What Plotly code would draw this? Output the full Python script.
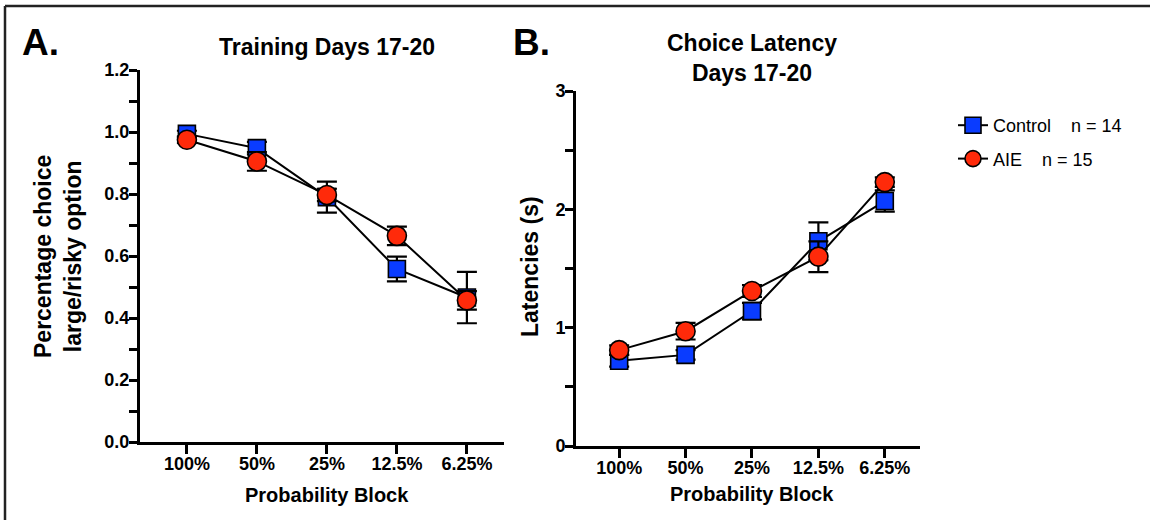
import plotly.graph_objects as go

# ---------------- data ----------------
categories = ["100%", "50%", "25%", "12.5%", "6.25%"]

choice_control = [0.994, 0.948, 0.79, 0.558, 0.466]
choice_control_err = [0.01, 0.02, 0.05, 0.04, 0.083]
choice_aie = [0.975, 0.905, 0.797, 0.665, 0.457]
choice_aie_err = [0.01, 0.03, 0.02, 0.03, 0.03]

latency_control = [0.72, 0.77, 1.14, 1.73, 2.07]
latency_control_err = [0.05, 0.04, 0.07, 0.16, 0.09]
latency_aie = [0.81, 0.97, 1.31, 1.60, 2.23]
latency_aie_err = [0.04, 0.07, 0.05, 0.13, 0.04]

control_name = "Control\u00a0\u00a0\u00a0\u00a0n = 14"
aie_name = "AIE\u00a0\u00a0\u00a0\u00a0n = 15"

# ---------------- style ----------------
W, H = 1150, 520
FONT = "Liberation Sans, Arial, sans-serif"
BLUE = "#0a3cff"
RED = "#ff2a0a"
xpos = list(range(len(categories)))


def px_x(p):
    return p / W


def px_y(p):
    return 1 - p / H


fig = go.Figure()


def add_series(y, err, xa, ya, color, symbol, size, name, show, group):
    fig.add_trace(go.Scatter(
        x=xpos, y=y, xaxis=xa, yaxis=ya, mode="lines+markers",
        name=name, showlegend=show, legendgroup=group,
        line=dict(color="black", width=2),
        marker=dict(symbol=symbol, size=size, color=color,
                    line=dict(color="black", width=1.6)),
        error_y=dict(type="data", array=err, visible=True,
                     color="black", thickness=2.2, width=10),
    ))


add_series(choice_control, choice_control_err, "x", "y", BLUE, "square", 17, control_name, True, "c")
add_series(choice_aie, choice_aie_err, "x", "y", RED, "circle", 19, aie_name, True, "a")
add_series(latency_control, latency_control_err, "x2", "y2", BLUE, "square", 17, control_name, False, "c")
add_series(latency_aie, latency_aie_err, "x2", "y2", RED, "circle", 19, aie_name, False, "a")

tickfont = dict(family=FONT, size=18, color="black", weight="bold")

common_x = dict(
    tickmode="array", tickvals=xpos, ticktext=categories,
    showline=True, linecolor="black", linewidth=3,
    ticks="outside", ticklen=9, tickwidth=3, tickcolor="black",
    showgrid=False, zeroline=False, tickfont=tickfont, fixedrange=True,
    automargin=False, ticklabelstandoff=-6,
)
common_y = dict(
    showline=True, linecolor="black", linewidth=3,
    ticks="outside", ticklen=8, tickwidth=3, tickcolor="black",
    showgrid=False, zeroline=False, tickfont=tickfont, fixedrange=True,
    automargin=False, ticklabelstandoff=-4,
)

fig.update_layout(
    width=W, height=H, autosize=False,
    margin=dict(l=0, r=0, t=0, b=0, autoexpand=False),
    paper_bgcolor="white", plot_bgcolor="white",
    font=dict(family=FONT, color="black"),
    xaxis=dict(domain=[px_x(140), px_x(504)], range=[-0.67, 4.53], anchor="y", **common_x),
    yaxis=dict(domain=[px_y(442), px_y(70)], range=[0, 1.2], anchor="x",
               tickvals=[0, 0.2, 0.4, 0.6, 0.8, 1.0, 1.2], tickformat=".1f",
               minor=dict(tickvals=[0.1, 0.3, 0.5, 0.7, 0.9, 1.1], ticks="outside",
                          ticklen=8, tickwidth=3, tickcolor="black", showgrid=False),
               **common_y),
    xaxis2=dict(domain=[px_x(576), px_x(920)], range=[-0.65, 4.53], anchor="y2", **common_x),
    yaxis2=dict(domain=[px_y(446), px_y(91)], range=[0, 3], anchor="x2",
                tickvals=[0, 1, 2, 3],
                minor=dict(tickvals=[0.5, 1.5, 2.5], ticks="outside",
                           ticklen=8, tickwidth=3, tickcolor="black", showgrid=False),
                **common_y),
    legend=dict(x=px_x(953), y=px_y(107), xanchor="left", yanchor="top",
                font=dict(family=FONT, size=18, color="black"),
                tracegroupgap=7, bgcolor="rgba(0,0,0,0)", traceorder="grouped"),
    showlegend=True,
)

annotations = [
    dict(text="<b>A.</b>", x=px_x(20), y=px_y(42), xanchor="left", yanchor="middle",
         font=dict(size=37)),
    dict(text="<b>B.</b>", x=px_x(511), y=px_y(42), xanchor="left", yanchor="middle",
         font=dict(size=37)),
    dict(text="<b>Training Days 17-20</b>", x=px_x(327), y=px_y(47), xanchor="center",
         yanchor="middle", font=dict(size=23)),
    dict(text="<b>Choice Latency<br>Days 17-20</b>", x=px_x(752), y=px_y(58),
         xanchor="center", yanchor="middle", font=dict(size=23)),
    dict(text="<b>Percentage choice<br>large/risky option</b>", x=px_x(58), y=px_y(257),
         xanchor="center", yanchor="middle", textangle=-90, font=dict(size=23)),
    dict(text="<b>Latencies (s)</b>", x=px_x(530), y=px_y(267),
         xanchor="center", yanchor="middle", textangle=-90, font=dict(size=23)),
    dict(text="<b>Probability Block</b>", x=px_x(327), y=px_y(495),
         xanchor="center", yanchor="middle", font=dict(size=20)),
    dict(text="<b>Probability Block</b>", x=px_x(752), y=px_y(494),
         xanchor="center", yanchor="middle", font=dict(size=20)),
]
for a in annotations:
    a.update(xref="paper", yref="paper", showarrow=False)
    a["font"].update(family=FONT, color="black")
fig.update_layout(annotations=annotations)

# figure frame (top and left edges visible)
fig.add_shape(type="line", xref="paper", yref="paper",
              x0=px_x(5), x1=1, y0=px_y(6), y1=px_y(6),
              line=dict(color="#222", width=2.5))
fig.add_shape(type="line", xref="paper", yref="paper",
              x0=px_x(5), x1=px_x(5), y0=px_y(6), y1=0,
              line=dict(color="#222", width=2.5))

fig.write_html("out.html")
